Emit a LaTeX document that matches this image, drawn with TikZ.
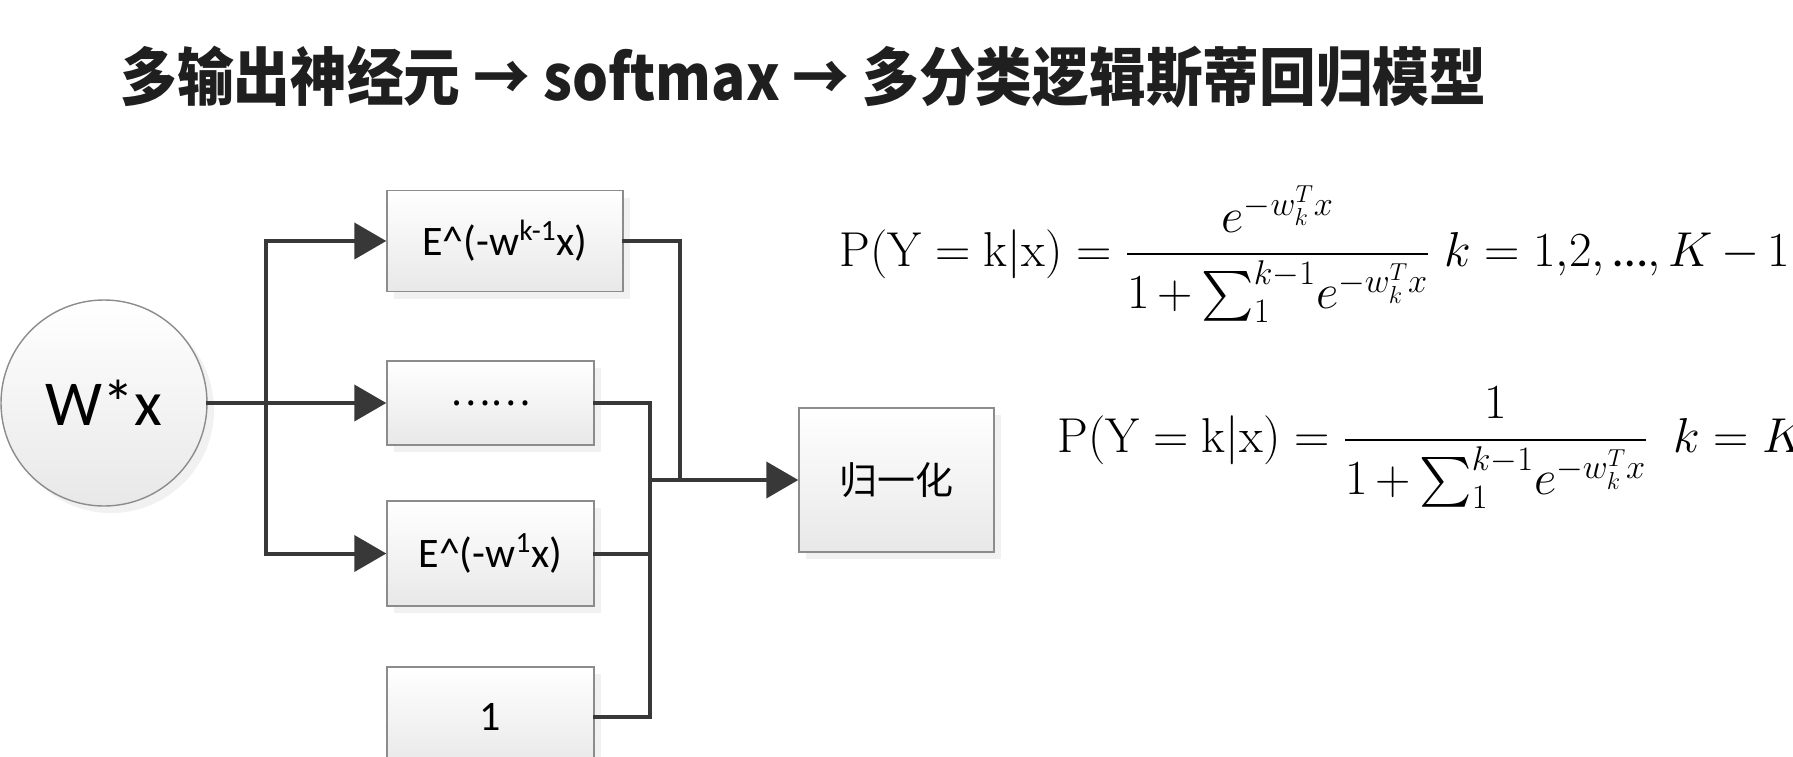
\RequirePackage{fix-cm}
\documentclass[tikz,border=0pt]{standalone}
\usepackage{amsmath}
\usepackage[no-math]{fontspec}
\setmainfont{Carlito}
\newfontfamily\cjk{Noto Sans CJK SC}
\newfontfamily\cjktitle[FakeStretch=0.9]{Noto Sans CJK SC}
\usetikzlibrary{arrows.meta,positioning,shadows}

\begin{document}
\begin{tikzpicture}[x=0.5pt, y=-0.5pt,
      font=\fontsize{21}{24}\selectfont,
      box/.style={draw=black!45, line width=0.7pt, top color=white, bottom color=black!9,
                  drop shadow={shadow xshift=3.5pt, shadow yshift=-3.5pt, fill=black!10},
                  inner sep=0pt, align=center},
      cell/.style={box, minimum width=103.5pt},
      wire/.style={line width=2pt, draw=black!78, line cap=rect, line join=miter},
      flow/.style={wire, -{Triangle[length=16pt, width=18pt]}},
      formula/.style={anchor=base west, inner sep=0pt, font=\fontsize{24.5}{28}\selectfont}]
    \clip (0,0) rectangle (1793,756);
    \fill[white] (0,0) rectangle (1793,756);
    \node[anchor=west, inner sep=0pt, text=black!88, font=\cjktitle\bfseries\fontsize{31.5}{36}\selectfont] (title) at (120,77)
      {多输出神经元 → softmax → 多分类逻辑斯蒂回归模型};
    \node[box, circle, minimum size=103pt, font=\fontsize{32}{36}\selectfont] (wx) at (104,403) {W*x};
    \node[box, minimum width=118pt, minimum height=50.5pt] (ek) at (505,241)
      {E\textasciicircum(-w\textsuperscript{k-1}x)};
    \node[cell, minimum height=42pt, font=\cjk\fontsize{19}{22}\selectfont] (dots) at (490.5,403) {……};
    \node[cell, minimum height=52.5pt] (e1) at (490.5,553.5) {E\textasciicircum(-w\textsuperscript{1}x)};
    \node[cell, minimum height=50pt] (one) at (490.5,717) {1};
    \node[box, minimum width=97.5pt, minimum height=72pt, font=\cjk\fontsize{19}{22}\selectfont] (norm) at (896.5,480) {归一化};
    \coordinate (fork) at (266,403);
    \coordinate (bus) at (650,480);
    \coordinate (bus2) at (680,480);
    \draw[wire] (wx.east) -- (fork);
    \draw[wire] (fork |- ek.west) -- (fork |- e1.west);
    \draw[flow] (fork |- ek.west) -- (ek.west);
    \draw[flow] (fork) -- (dots.west);
    \draw[flow] (fork |- e1.west) -- (e1.west);
    \draw[wire] (ek.east) -| (bus2);
    \draw[wire] (dots.east) -| (bus |- one.east) -- (one.east);
    \draw[wire] (e1.east) -- (e1.east -| bus);
    \draw[flow] (bus) -- (norm.west);
    \node[formula] (p1) at (839,266)
      {$\medmuskip=3mu\mathrm{P}(\mathrm{Y}=\mathrm{k}|\mathrm{x})=\dfrac{e^{-w_k^Tx}}{1+\sum_1^{k-1}\!e^{-w_k^Tx}}\;k=1{,}2,\text{…},K-1$};
    \node[formula] (p2) at (1057,452)
      {$\medmuskip=3mu\mathrm{P}(\mathrm{Y}=\mathrm{k}|\mathrm{x})=\dfrac{1}{1+\sum_1^{k-1}\!e^{-w_k^Tx}}\enspace k=K$};
  \end{tikzpicture}
\end{document}
